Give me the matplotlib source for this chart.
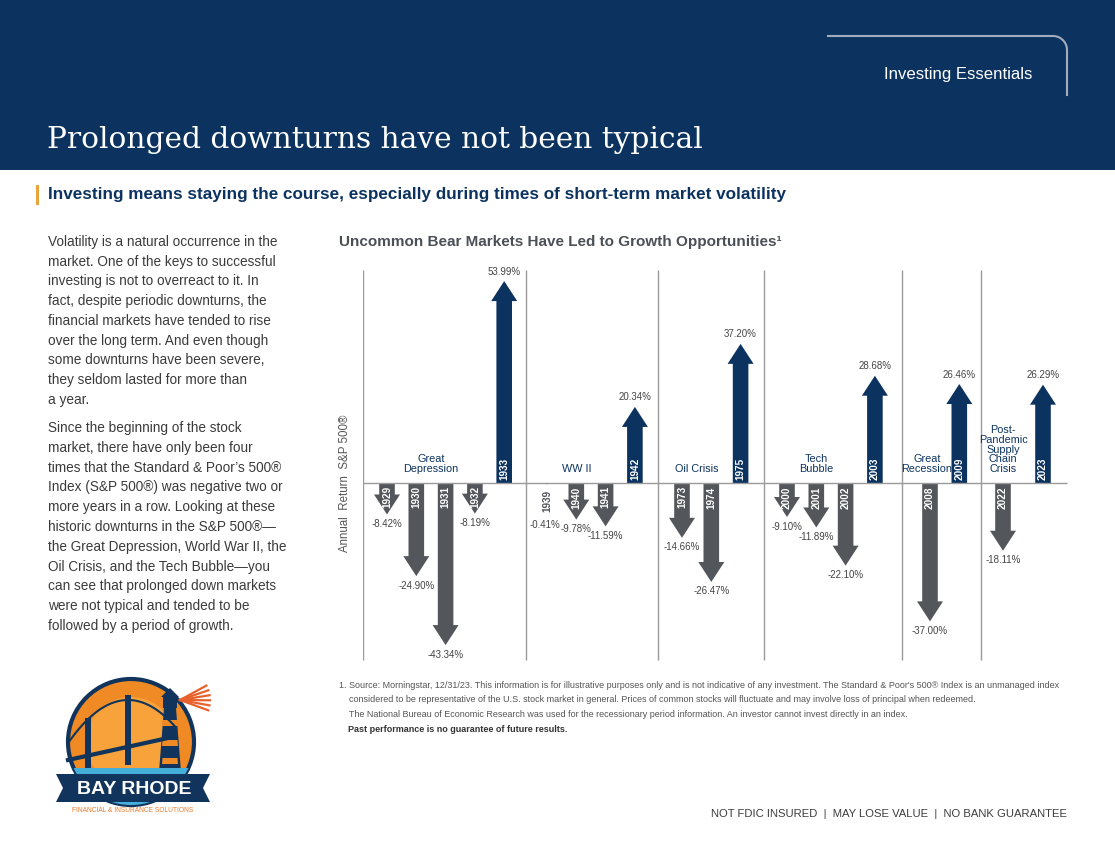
import matplotlib.pyplot as plt
import numpy as np
from matplotlib.patches import FancyArrow, Rectangle, Circle, Polygon

plt.rcParams['font.family'] = ['Liberation Sans', 'DejaVu Sans']

# ---- data ----
groups = ["Great\nDepression", "WW II", "Oil Crisis", "Tech\nBubble",
          "Great\nRecession", "Post-\nPandemic\nSupply\nChain\nCrisis"]
years = [[1929, 1930, 1931, 1932, 1933],
         [1939, 1940, 1941, 1942],
         [1973, 1974, 1975],
         [2000, 2001, 2002, 2003],
         [2008, 2009],
         [2022, 2023]]
returns = [[-8.42, -24.90, -43.34, -8.19, 53.99],
           [-0.41, -9.78, -11.59, 20.34],
           [-14.66, -26.47, 37.20],
           [-9.10, -11.89, -22.10, 28.68],
           [-37.00, 26.46],
           [-18.11, 26.29]]

body1 = ["Volatility is a natural occurrence in the",
         "market. One of the keys to successful",
         "investing is not to overreact to it. In",
         "fact, despite periodic downturns, the",
         "financial markets have tended to rise",
         "over the long term. And even though",
         "some downturns have been severe,",
         "they seldom lasted for more than",
         "a year."]
body2 = ["Since the beginning of the stock",
         "market, there have only been four",
         "times that the Standard & Poor\u2019s 500\u00ae",
         "Index (S&P 500\u00ae) was negative two or",
         "more years in a row. Looking at these",
         "historic downturns in the S&P 500\u00ae\u2014",
         "the Great Depression, World War II, the",
         "Oil Crisis, and the Tech Bubble\u2014you",
         "can see that prolonged down markets",
         "were not typical and tended to be",
         "followed by a period of growth."]
footnote = ["1. Source: Morningstar, 12/31/23. This information is for illustrative purposes only and is not indicative of any investment. The Standard & Poor's 500\u00ae Index is an unmanaged index",
            "    considered to be representative of the U.S. stock market in general. Prices of common stocks will fluctuate and may involve loss of principal when redeemed.",
            "    The National Bureau of Economic Research was used for the recessionary period information. An investor cannot invest directly in an index."]

NAVY = '#0c3360'
GREY = '#53565b'
TXT = '#3b3b3b'

W, H = 1115, 858
fig = plt.figure(figsize=(W / 100, H / 100), dpi=100)
bg = fig.add_axes([0, 0, 1, 1])
bg.set_xlim(0, W)
bg.set_ylim(H, 0)
bg.axis('off')

# header
bg.add_patch(Rectangle((0, 0), W, 170, color=NAVY, lw=0))
t = np.linspace(0, np.pi / 2, 30)
r = 14
xs = np.concatenate([[828], 1067 - r + r * np.sin(t), [1067]])
ys = np.concatenate([[36], 36 + r - r * np.cos(t), [95]])
bg.plot(xs, ys, color='#a3acbd', lw=1.5)
bg.text(1032, 75, 'Investing Essentials', color='white', fontsize=12.1,
        ha='right', va='center')
bg.text(47, 140, 'Prolonged downturns have not been typical', color='white',
        family='DejaVu Serif', fontsize=21.3, va='center')

bg.add_patch(Rectangle((36, 185), 3, 20, color='#e9a53c', lw=0))
bg.text(48, 195, 'Investing means staying the course, especially during times of short-term market volatility',
        color=NAVY, fontsize=12.3, fontweight='bold', va='center')

for i, line in enumerate(body1):
    bg.text(48, 242 + i * 19.75, line, color=TXT, fontsize=9.8, va='center')
for i, line in enumerate(body2):
    bg.text(48, 428 + i * 19.8, line, color=TXT, fontsize=9.8, va='center')

bg.text(339, 242, 'Uncommon Bear Markets Have Led to Growth Opportunities\u00b9',
        color='#4b5056', fontsize=11.0, fontweight='bold', va='center')

for i, line in enumerate(footnote):
    bg.text(339, 685 + i * 14.7, line, color='#555555', fontsize=6.48, va='center')
bg.text(348, 729, 'Past performance is no guarantee of future results.', color='#333333',
        fontsize=6.48, fontweight='bold', va='center')

bg.text(1067, 814, 'NOT FDIC INSURED  |  MAY LOSE VALUE  |  NO BANK GUARANTEE',
        color='#3d3d3d', fontsize=8.1, ha='right', va='center')

# ---- logo (simplified) ----
ORANGE = '#f08a24'
LNAVY = '#10345c'
circ = Circle((131, 742), 63, facecolor=ORANGE, edgecolor=LNAVY, lw=3)
bg.add_patch(circ)
inner = Circle((131, 742), 45, facecolor='#f7a23b', lw=0)
bg.add_patch(inner)
inner.set_clip_path(circ)
# bridge
for tx in (88, 128):
    bg.add_patch(Rectangle((tx - 3, 695 if tx == 128 else 718), 6, 70, color=LNAVY, lw=0))
bx = np.linspace(68, 175, 60)
bg.plot(bx, 760 - (bx - 68) * 0.22, color=LNAVY, lw=3)
cable = 700 + 0.012 * (bx - 128) ** 2
bg.plot(bx, np.minimum(cable, 765), color=LNAVY, lw=1.5)
# lighthouse
bg.add_patch(Polygon([[159, 772], [181, 772], [176, 708], [164, 708]], closed=True,
                     facecolor=LNAVY, lw=0))
for yy in (720, 740, 758):
    bg.add_patch(Polygon([[162, yy + 6], [178, yy + 6], [177.5, yy], [162.5, yy]],
                         closed=True, facecolor=ORANGE, lw=0))
bg.add_patch(Rectangle((163, 697), 14, 11, color=LNAVY, lw=0))
bg.add_patch(Polygon([[161, 697], [179, 697], [170, 688]], closed=True, color=LNAVY, lw=0))
for ang in np.linspace(-0.5, 0.35, 6):
    bg.plot([180, 180 + 30 * np.cos(ang)], [700, 700 + 30 * np.sin(ang)],
            color='#e8612c', lw=1.6)
water = Polygon([[68, 768], [200, 768], [200, 810], [68, 810]], closed=True,
                facecolor='#45aedb', lw=0)
bg.add_patch(water)
water.set_clip_path(circ)
# banner
bg.add_patch(Polygon([[56, 774], [210, 774], [203, 788], [210, 802], [56, 802], [63, 788]],
                     closed=True, facecolor=LNAVY, lw=0))
bg.text(134, 789, 'BAY RHODE', color='white', fontsize=14, fontweight='bold',
        ha='center', va='center')
bg.text(133, 810, 'FINANCIAL & INSURANCE SOLUTIONS', color='#e97b2c', fontsize=4.8,
        ha='center', va='center')

# ---- chart ----
PX = 3.74          # pixels per percentage point
ZERO_Y = 483
AX_L, AX_R, AX_T, AX_B = 363, 1070, 265, 665
ax = fig.add_axes([AX_L / W, 1 - AX_B / H, (AX_R - AX_L) / W, (AX_B - AX_T) / H])
ax.set_xlim(0, AX_R - AX_L)
ax.set_ylim(-(AX_B - ZERO_Y) / PX, (ZERO_Y - AX_T) / PX)
ax.axis('off')
ax.patch.set_alpha(0)

group_start = [24, 184, 319, 424, 567, 640]
group_step = [29.3, 29.3, 29.3, 29.3, 29.3, 40]
label_shift = [0, 0, 0, 0, -3, 0]
shaft_w, head_w, head_l = 16, 26, 20 / PX
line_top, line_bot = (ZERO_Y - 270) / PX, -(660 - ZERO_Y) / PX

xpos = [[s + i * st for i in range(len(yrs))]
        for s, st, yrs in zip(group_start, group_step, years)]

ax.vlines(0, line_bot, line_top, color='#9a9a9a', lw=1)
for g in range(len(groups) - 1):
    xd = (xpos[g][-1] + xpos[g + 1][0]) / 2
    ax.vlines(xd, line_bot, line_top, color='#9a9a9a', lw=1)
ax.hlines(0, 0, 704, color='#9a9a9a', lw=1)

for g, (gname, yrs, vals, xs_) in enumerate(zip(groups, years, returns, xpos)):
    neg_x = [x for x, v in zip(xs_, vals) if v < 0]
    ax.text(np.mean(neg_x) + label_shift[g], 2.4, gname, ha='center', va='bottom',
            color=NAVY, fontsize=7.8, linespacing=0.97)
    for x, yr, v in zip(xs_, yrs, vals):
        col = NAVY if v > 0 else GREY
        hl = min(head_l, abs(v))
        hw = head_w * hl / head_l
        sw = min(shaft_w, hw * 0.6)
        ax.add_patch(FancyArrow(x, 0, 0, v, width=sw, head_width=hw, head_length=hl,
                                length_includes_head=True, color=col, lw=0))
        tip = v * PX
        if v > 0:
            ax.text(x, 0.9, str(yr), rotation=90, ha='center', va='bottom',
                    color='white', fontsize=7.2, fontweight='bold')
            ax.text(x, v + 1.2, f'{v:.2f}%', ha='center', va='bottom', color='#444444',
                    fontsize=7)
        elif abs(tip) < 20:
            ax.text(x, v - 1.5, str(yr), rotation=90, ha='center', va='top',
                    color=GREY, fontsize=7.2, fontweight='bold')
            ax.text(x - 2, v - 9.6, f'{v:.2f}%', ha='center', va='top', color='#444444',
                    fontsize=7)
        else:
            ax.text(x, -0.9, str(yr), rotation=90, ha='center', va='top',
                    color='white', fontsize=7.2, fontweight='bold')
            ax.text(x, v - 1.2, f'{v:.2f}%', ha='center', va='top', color='#444444',
                    fontsize=7)

ax.text(-18, 0, 'Annual  Return  S&P 500\u00ae', rotation=90, ha='center', va='center',
        color='#555555', fontsize=8.3)

fig.savefig('out.png', dpi=100)
